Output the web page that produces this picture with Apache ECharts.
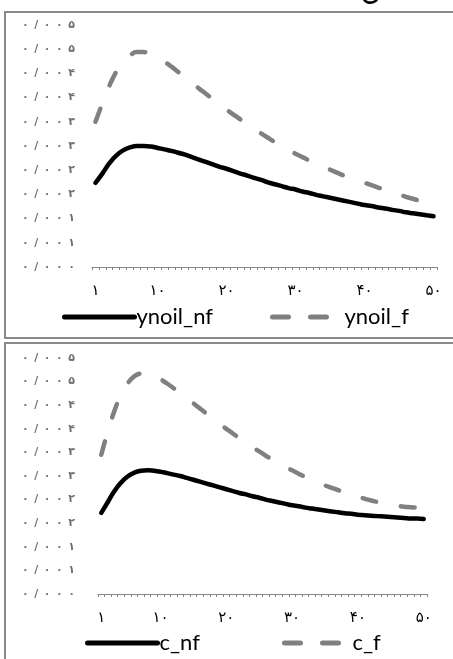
<!DOCTYPE html>
<html>
<head>
<meta charset="utf-8">
<script src="https://cdn.jsdelivr.net/npm/echarts@6/dist/echarts.min.js"></script>
<style>
html,body{margin:0;padding:0;background:#fff;}
#chart{width:453px;height:659px;}
</style>
</head>
<body>
<div id="chart"></div>
<script>
const categories = [1,2,3,4,5,6,7,8,9,10,11,12,13,14,15,16,17,18,19,20,21,22,23,24,25,26,27,28,29,30,31,32,33,34,35,36,37,38,39,40,41,42,43,44,45,46,47,48,49,50];
const xLabelIndices = [0, 9, 19, 29, 39, 49];
const yTickLabels = ['۰/۰۰۰','۰/۰۰۱','۰/۰۰۱','۰/۰۰۲','۰/۰۰۲','۰/۰۰۳','۰/۰۰۳','۰/۰۰۴','۰/۰۰۴','۰/۰۰۵','۰/۰۰۵'];

// top panel (values x 1e-3)
const ynoil_nf = [1.74,1.93,2.14,2.30,2.41,2.47,2.50,2.50,2.49,2.46,2.43,2.40,2.36,2.32,2.27,2.22,2.17,2.12,2.07,2.03,1.98,1.93,1.89,1.84,1.80,1.75,1.71,1.67,1.63,1.60,1.56,1.53,1.49,1.46,1.43,1.40,1.37,1.34,1.31,1.28,1.26,1.23,1.21,1.18,1.16,1.13,1.11,1.09,1.07,1.05];
const ynoil_f = [3.00,3.38,3.74,4.03,4.24,4.37,4.44,4.44,4.40,4.33,4.24,4.14,4.03,3.92,3.81,3.69,3.58,3.47,3.36,3.25,3.15,3.05,2.95,2.85,2.76,2.67,2.58,2.50,2.42,2.34,2.27,2.20,2.13,2.07,2.01,1.95,1.89,1.84,1.79,1.74,1.69,1.64,1.60,1.56,1.50,1.45,1.41,1.37,1.33,1.29];
// bottom panel (values x 1e-3)
const c_nf = [1.72,1.95,2.18,2.36,2.49,2.57,2.61,2.62,2.61,2.59,2.56,2.53,2.50,2.46,2.42,2.38,2.34,2.30,2.26,2.22,2.18,2.14,2.11,2.07,2.04,2.00,1.97,1.94,1.91,1.88,1.86,1.83,1.81,1.79,1.77,1.75,1.73,1.71,1.70,1.68,1.67,1.66,1.65,1.64,1.63,1.62,1.61,1.60,1.60,1.59];
const c_f = [2.95,3.45,3.88,4.22,4.46,4.61,4.67,4.68,4.63,4.55,4.46,4.36,4.26,4.15,4.04,3.93,3.82,3.71,3.60,3.50,3.40,3.30,3.20,3.11,3.02,2.93,2.85,2.77,2.69,2.62,2.55,2.48,2.42,2.36,2.30,2.25,2.20,2.15,2.10,2.06,2.02,1.98,1.95,1.92,1.89,1.87,1.85,1.84,1.83,1.82];

const faDigits = ['۰','۱','۲','۳','۴','۵','۶','۷','۸','۹'];
function toFa(s){ return String(s).replace(/[0-9]/g, d => faDigits[+d]); }
function scale(arr){ return arr.map(v => v / 1000); }
function spaced(s){ return s.split('').join('\u2002'); }

const chart = echarts.init(document.getElementById('chart'), null, {renderer:'canvas'});

const grids = [
  {left: 92, right: 16, top: 25, bottom: 392},
  {left: 98, right: 26, top: 358, bottom: 65}
];

function xAxis(gi){
  return {
    type: 'category', gridIndex: gi, data: categories, boundaryGap: true,
    axisLine: {show: true, lineStyle: {color: '#868686', width: 1}},
    axisTick: {show: true, interval: 0, length: 3, lineStyle: {color: '#868686'}},
    axisLabel: {
      interval: (i) => xLabelIndices.indexOf(i) >= 0,
      formatter: (v) => toFa(v),
      margin: 17, color: '#000', fontSize: 15, fontFamily: 'DejaVu Sans'
    },
    splitLine: {show: false}
  };
}
function yAxis(gi, margin){
  return {
    type: 'value', gridIndex: gi, min: 0, max: 0.005, interval: 0.0005,
    axisLine: {show: false}, axisTick: {show: false}, splitLine: {show: false},
    axisLabel: {
      align: 'left', margin: margin, color: '#707070', fontSize: 11, fontWeight: 'bold', fontFamily: 'DejaVu Sans',
      formatter: (v) => spaced(yTickLabels[Math.round(v / 0.0005)] || '')
    }
  };
}
function solid(name, data, gi){
  return {name, type: 'line', xAxisIndex: gi, yAxisIndex: gi, data: scale(data), smooth: true,
    symbol: 'none', lineStyle: {color: '#000', width: 4.5, cap: 'round'}, itemStyle: {color: '#000'}};
}
function dashed(name, data, gi){
  return {name, type: 'line', xAxisIndex: gi, yAxisIndex: gi, data: scale(data), smooth: true,
    symbol: 'none', lineStyle: {color: '#808080', width: 4.5, type: [14, 25], cap: 'round'}, itemStyle: {color: '#808080'}};
}
function legend(name, left, top, w, dash){
  return {
    data: [name], left: left, top: top, itemWidth: w, itemHeight: 14, padding: 0,
    itemStyle: {color: 'transparent', borderWidth: 0},
    lineStyle: dash ? {width: 5, type: dash, cap: 'round', color: '#808080'} : {width: 5, cap: 'round', color: '#000'},
    textStyle: {fontSize: 22, fontFamily: 'Lato', color: '#000', padding: [0,0,0,-3]},
    selectedMode: false
  };
}

chart.setOption({
  animation: false,
  backgroundColor: '#fff',
  grid: grids,
  xAxis: [xAxis(0), xAxis(1)],
  yAxis: [yAxis(0, 70), yAxis(1, 76)],
  legend: [
    legend('ynoil_nf', 62, 306, 70, null),
    legend('ynoil_f', 270, 306, 70, [16, 22]),
    legend('c_nf', 85, 632, 70, null),
    legend('c_f', 282, 632, 66, [16, 22])
  ],
  series: [
    solid('ynoil_nf', ynoil_nf, 0),
    dashed('ynoil_f', ynoil_f, 0),
    solid('c_nf', c_nf, 1),
    dashed('c_f', c_f, 1)
  ],
  graphic: [
    {type: 'rect', shape: {x: 5, y: 12, width: 470, height: 326}, style: {fill: 'none', stroke: '#8a8a8a', lineWidth: 2}, silent: true},
    {type: 'rect', shape: {x: 5, y: 343, width: 470, height: 340}, style: {fill: 'none', stroke: '#8a8a8a', lineWidth: 2}, silent: true},
    {type: 'text', left: 360, top: -24, style: {text: 'ن', font: '30px "DejaVu Sans"', fill: '#000'}, silent: true}
  ]
});
</script>
</body>
</html>
